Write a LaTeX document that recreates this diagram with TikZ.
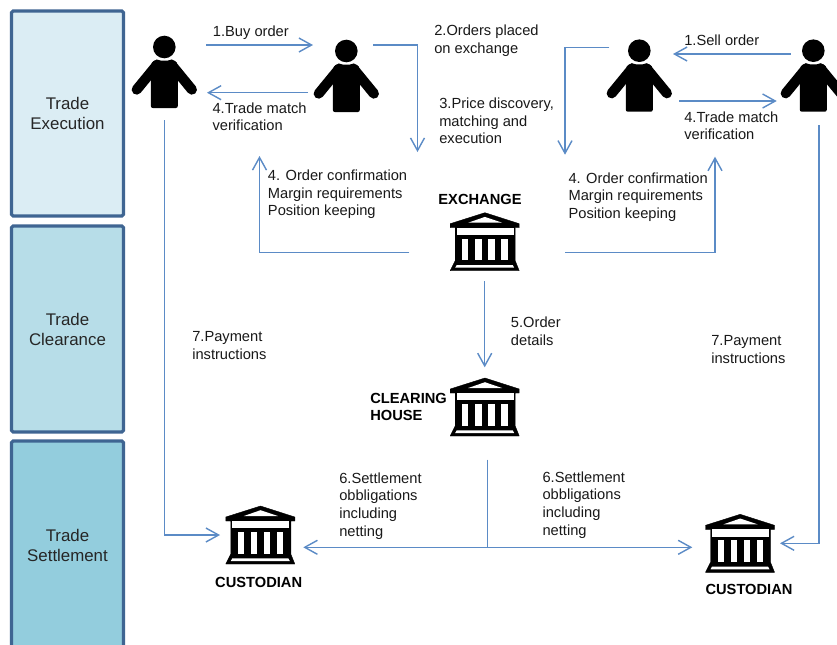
\documentclass[tikz,border=0pt]{standalone}
\usepackage{fontspec}
\setmainfont{Liberation Sans}
\usetikzlibrary{arrows.meta}
\definecolor{linkblue}{HTML}{5B8BC6}
\definecolor{boxedge}{HTML}{3F6592}
\definecolor{fillA}{HTML}{DBEDF4}
\definecolor{fillB}{HTML}{B7DDE8}
\definecolor{fillC}{HTML}{93CDDD}
\tikzset{
  x=0.75pt,y=-0.75pt,
  link/.style={draw=linkblue,line width=1.05pt,-{Straight Barb[length=9.5pt,width=10.5pt,line width=1.05pt]}},
  plainlink/.style={draw=linkblue,line width=1.05pt},
  phase/.style={draw=boxedge,line width=2.3pt,rounded corners=1.2pt,minimum width=84pt,align=center,inner sep=0pt,
    font=\fontsize{12.65}{15}\selectfont,text=black!85},
  lbl/.style={anchor=north west,inner sep=0pt,align=left,font=\fontsize{11}{13.35}\selectfont,text=black!90},
  blbl/.style={inner sep=0pt,align=left,font=\fontsize{11}{13.1}\selectfont\bfseries},
  personbox/.style={inner sep=0pt,minimum width=48.75pt,minimum height=54pt},
  bankbox/.style={inner sep=0pt,minimum width=51.75pt,minimum height=43.5pt},
  person/.pic={
    \fill[black] (0,-25) circle[radius=11.3];
    \fill[black,rounded corners=1.5pt] (-12,-11.3) -- (12,-11.3) -- (13.5,-5) -- (13.5,36) -- (-13.5,36) -- (-13.5,-5) -- cycle;
    \draw[black,line width=7.6pt,line cap=round] (-7,-7.5) -- (-27.6,17.6);
    \draw[black,line width=7.6pt,line cap=round] (7,-7.5) -- (27.6,17.6);
  },
  bank/.pic={
    \begin{scope}[shift={(-34.5,-29)}]
    \filldraw[black,line width=0.3pt,line join=round] (34.7,0) -- (69,11) -- (69,15) -- (65,15) -- (65,48) -- (69,58) -- (0,58) -- (5,48) -- (5,15) -- (0,15) -- (0,11) -- cycle;
    \fill[white] (34.7,4.2) -- (52,10) -- (18,10) -- cycle;
    \fill[white] (6.5,15) rectangle (63.5,22.3);
    \fill[white] (12,26) rectangle (18,47.5);
    \fill[white] (25,26) rectangle (31.5,47.5);
    \fill[white] (38,26) rectangle (44.5,47.5);
    \fill[white] (51,26) rectangle (57.5,47.5);
    \fill[white] (6.5,52.3) -- (62.5,52.3) -- (64,55) -- (5,55) -- cycle;
    \end{scope}
  }
}
\newcommand{\textat}[4]{\node[lbl] (#1) at (#2,#3-12.4) {\strut #4};}
\begin{document}
\begin{tikzpicture}
\useasboundingbox (0,0) rectangle (837,644);
\clip (0,0) rectangle (837,644);
\fill[white] (0,0) rectangle (837,644);
% phases
\node[phase,fill=fillA,minimum height=153.75pt] (ph1) at (67.5,113.5) {Trade\\Execution};
\node[phase,fill=fillB,minimum height=154.5pt] (ph2) at (67.5,329) {Trade\\Clearance};
\node[phase,fill=fillC,minimum height=156pt] (ph3) at (67.5,545) {Trade\\Settlement};
% actors
\node[personbox] (p1) at (164.3,72) {};
\node[personbox] (p2) at (346.3,76) {};
\node[personbox] (p3) at (639.3,75.7) {};
\node[personbox] (p4) at (813.3,75.7) {};
\pic at (p1) {person};
\pic at (p2) {person};
\pic at (p3) {person};
\pic at (p4) {person};
% institutions
\node[bankbox] (ex) at (484.7,241.7) {};
\node[bankbox] (ch) at (484.7,407) {};
\node[bankbox] (cl) at (260.3,535) {};
\node[bankbox] (cr) at (740,543.3) {};
\pic at (ex) {bank};
\pic at (ch) {bank};
\pic at (cl) {bank};
\pic at (cr) {bank};
% connectors
\draw[link] ([shift={(41.7,-27)}]p1.center) -- ([shift={(-33.3,-31)}]p2.center);
\draw[link] ([shift={(-38.3,16.7)}]p2.center) -- ([shift={(42.7,20.7)}]p1.center);
\draw[link] ([shift={(27,-31)}]p2.center) -| ([shift={(-67.2,-89.7)}]ex.center);
\draw[link] ([shift={(-75.3,10.6)}]ex.center) -| ([shift={(95.2,84)}]p1.center);
\draw[link] ([shift={(0,48)}]p1.center) |- ([shift={(-40.3,0)}]cl.center);
\draw[link] ([shift={(-30,-28)}]p3.center) -| ([shift={(80.3,-87)}]ex.center);
\draw[link] ([shift={(-22.5,-21.7)}]p4.center) -- ([shift={(33.7,-21.7)}]p3.center);
\draw[link] ([shift={(39.7,25.3)}]p3.center) -- ([shift={(-36.6,25.3)}]p4.center);
\draw[link] ([shift={(80.3,10.6)}]ex.center) -| ([shift={(-98.3,81)}]p4.center);
\draw[link] ([shift={(5.5,49.3)}]p4.center) |- ([shift={(40,0)}]cr.center);
\draw[link] ([shift={(0,39.3)}]ex.center) -- ([shift={(0,-39.7)}]ch.center);
\coordinate (jn) at (487.7,547.3);
\draw[plainlink] ([shift={(3,52.5)}]ch.center) -- (jn);
\draw[link] (jn) -- ([shift={(43,12.3)}]cl.center);
\draw[link] (jn) -- ([shift={(-47.7,4)}]cr.center);
% labels
\textat{t1}{212.7}{36}{1.Buy order}
\textat{t2}{212.3}{112.7}{4.Trade match\\verification}
\textat{t3}{434}{35}{2.Orders placed\\on exchange}
\textat{t4}{439}{108}{3.Price discovery,\\matching and\\execution}
\textat{t5}{267.7}{180}{4. Order confirmation\\Margin requirements\\Position keeping}
\textat{t6}{568.3}{182.7}{4. Order confirmation\\Margin requirements\\Position keeping}
\textat{t7}{684}{45}{1.Sell order}
\textat{t8}{684}{121.7}{4.Trade match\\verification}
\textat{t9}{510.7}{327.3}{5.Order\\details}
\textat{t10}{192}{341}{7.Payment\\instructions}
\textat{t11}{711}{345}{7.Payment\\instructions}
\textat{t12}{339}{482.7}{6.Settlement\\obbligations\\including\\netting}
\textat{t13}{542.3}{481.7}{6.Settlement\\obbligations\\including\\netting}
\node[blbl,anchor=base] (b1) at (480,204) {EXCHANGE};
\node[blbl,anchor=north west] (b2) at (370,392.5) {CLEARING\\HOUSE};
\node[blbl,anchor=base] (b3) at (258.7,587.3) {CUSTODIAN};
\node[blbl,anchor=base] (b4) at (749,594) {CUSTODIAN};
\end{tikzpicture}
\end{document}
